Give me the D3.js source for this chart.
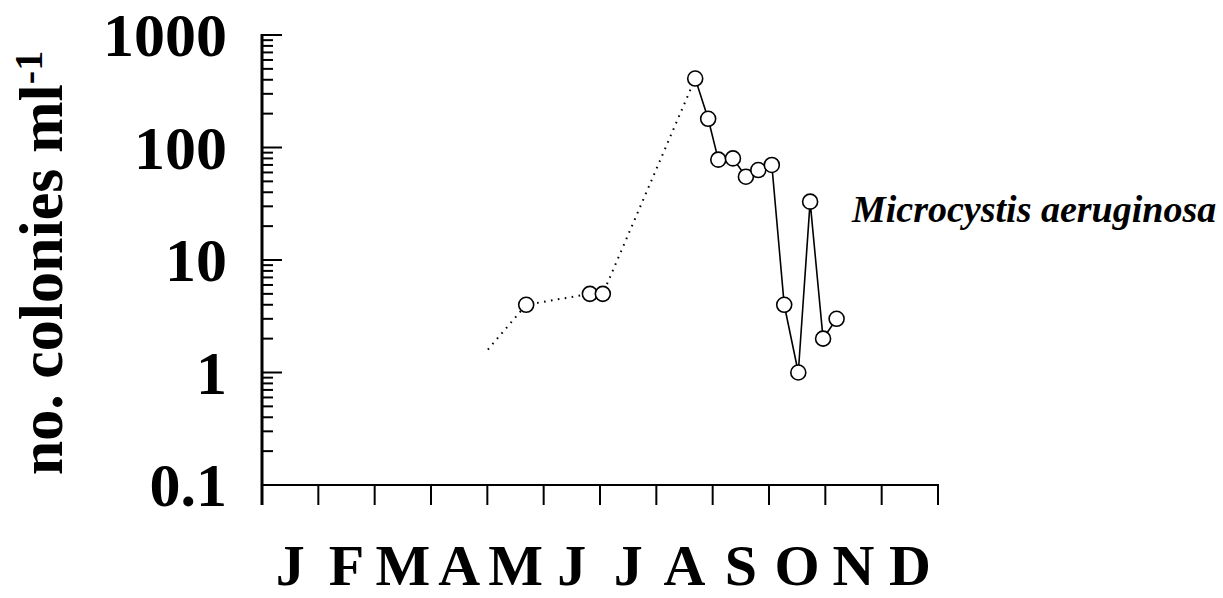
<!DOCTYPE html>
<html>
<head>
<meta charset="utf-8">
<script src="https://cdn.jsdelivr.net/npm/d3@7"></script>
<style>
  html, body { margin: 0; padding: 0; background: #fff; }
  svg { display: block; }
  text { font-family: "Liberation Serif", "Times New Roman", serif; fill: #000; }
</style>
</head>
<body>
<svg id="chart" width="1223" height="598"></svg>
<script>
// Month labels along the x axis (one per monthly band)
const monthLabels = ["J", "F", "M", "A", "M", "J", "J", "A", "S", "O", "N", "D"];

// Decade tick labels on the log y axis
const yTickValues = [0.1, 1, 10, 100, 1000];
const yTickLabels = ["0.1", "1", "10", "100", "1000"];

// Sampling time in months since 1 January, and colony counts (colonies per ml)
// Early-season stretch joined with a dotted line (first value is the extrapolated start, no marker)
const dottedMonths = [4.01, 4.69, 5.82, 6.05, 7.69];
const dottedValues = [1.6, 4, 5, 5, 410];
// Late-season stretch joined with a solid line
const solidMonths = [7.69, 7.92, 8.10, 8.36, 8.59, 8.81, 9.05, 9.27, 9.52, 9.73, 9.96, 10.20];
const solidValues = [410, 180, 78, 80, 55, 63, 70, 4, 1, 33, 2, 3];

const speciesName = "Microcystis aeruginosa";

const svg = d3.select("#chart");

const x0 = 262, x1 = 938, yTop = 35, yBottom = 485;

const x = d3.scaleLinear().domain([0, 12]).range([x0, x1]);
const y = d3.scaleLog().domain([0.1, 1000]).range([yBottom, yTop]);

// ---- y axis: line, major and minor log ticks ----
const gy = svg.append("g");
gy.append("line")
  .attr("x1", x0).attr("x2", x0)
  .attr("y1", y(1000) - 1).attr("y2", yBottom + 20)
  .attr("stroke", "#000").attr("stroke-width", 3);

const minorTicks = [];
for (let d = 0.1; d < 1000; d *= 10) {
  for (let k = 2; k <= 9; k++) minorTicks.push(+(d * k).toPrecision(3));
}
gy.selectAll("line.minor").data(minorTicks).join("line")
  .attr("class", "minor")
  .attr("x1", x0).attr("x2", x0 + 11)
  .attr("y1", d => y(d)).attr("y2", d => y(d))
  .attr("stroke", "#000").attr("stroke-width", 2);

gy.selectAll("line.major").data(yTickValues.filter(v => v > 0.1)).join("line")
  .attr("class", "major")
  .attr("x1", x0).attr("x2", x0 + 20)
  .attr("y1", d => y(d)).attr("y2", d => y(d))
  .attr("stroke", "#000").attr("stroke-width", 2);

gy.selectAll("text.ylab").data(yTickValues).join("text")
  .attr("class", "ylab")
  .attr("x", 227)
  .attr("y", d => y(d) + 21)
  .attr("text-anchor", "end")
  .attr("font-size", 62)
  .attr("font-weight", "bold")
  .text((d, i) => yTickLabels[i]);

// ---- x axis: line, month boundary ticks, month labels ----
const gx = svg.append("g");
gx.append("line")
  .attr("x1", x0).attr("x2", x1 + 1)
  .attr("y1", yBottom).attr("y2", yBottom)
  .attr("stroke", "#000").attr("stroke-width", 2);

gx.selectAll("line.xt").data(d3.range(0, 13)).join("line")
  .attr("class", "xt")
  .attr("x1", d => x(d)).attr("x2", d => x(d))
  .attr("y1", yBottom).attr("y2", yBottom + 20)
  .attr("stroke", "#000").attr("stroke-width", 2);

gx.selectAll("text.mlab").data(monthLabels).join("text")
  .attr("class", "mlab")
  .attr("x", (d, i) => x(i + 0.5))
  .attr("y", 585)
  .attr("text-anchor", "middle")
  .attr("font-size", 58)
  .attr("font-weight", "bold")
  .text(d => d);

// ---- y axis title ----
const title = svg.append("text")
  .attr("transform", "translate(62,263) rotate(-90)")
  .attr("text-anchor", "middle")
  .attr("font-size", 62)
  .attr("font-weight", "bold");
title.append("tspan").text("no. colonies ml");
title.append("tspan").attr("font-size", 40).attr("dy", -20).text("-1");

// ---- series lines ----
const line = d3.line().x(d => x(d[0])).y(d => y(d[1]));
const dottedPts = dottedMonths.map((m, i) => [m, dottedValues[i]]);
const solidPts = solidMonths.map((m, i) => [m, solidValues[i]]);

svg.append("path")
  .attr("d", line(dottedPts))
  .attr("fill", "none").attr("stroke", "#000")
  .attr("stroke-width", 2)
  .attr("stroke-dasharray", "1.6,5.4");

svg.append("path")
  .attr("d", line(solidPts))
  .attr("fill", "none").attr("stroke", "#000")
  .attr("stroke-width", 1.6);

// ---- open circle markers (the extrapolated start point has none) ----
const markerPts = dottedPts.slice(1, 4).concat(solidPts);
svg.selectAll("circle.pt").data(markerPts).join("circle")
  .attr("class", "pt")
  .attr("cx", d => x(d[0])).attr("cy", d => y(d[1]))
  .attr("r", 7.5)
  .attr("fill", "#fff").attr("stroke", "#000").attr("stroke-width", 1.6);

// ---- species label ----
svg.append("text")
  .attr("x", 852).attr("y", 222)
  .attr("font-size", 38)
  .attr("font-weight", "bold")
  .attr("font-style", "italic")
  .text(speciesName);
</script>
</body>
</html>
